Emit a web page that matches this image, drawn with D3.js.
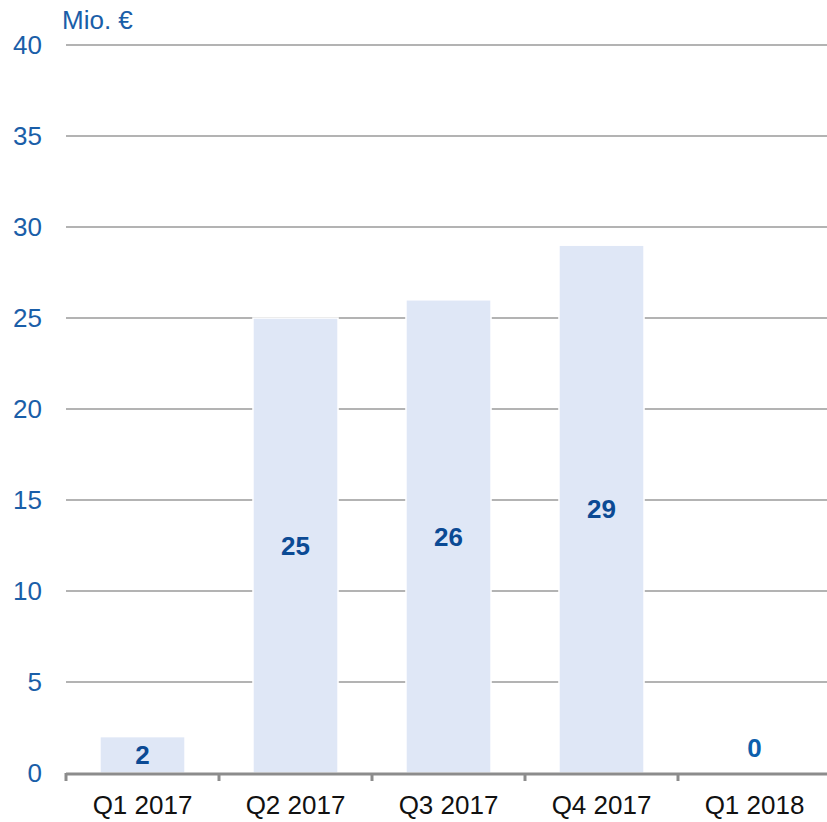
<!DOCTYPE html>
<html><head><meta charset="utf-8">
<script src="https://cdn.jsdelivr.net/npm/d3@7"></script>
<style>body{margin:0;background:#fff}svg{display:block}text{font-family:"Liberation Sans",Arial,sans-serif}</style>
</head><body>
<svg id="c" width="827" height="822"></svg>
<script>
const categories = ["Q1 2017","Q2 2017","Q3 2017","Q4 2017","Q1 2018"];
const values = [2, 25, 26, 29, 0];
const yTicks = [0,5,10,15,20,25,30,35,40];
const unitLabel = "Mio. €";

(function(){
const svg = d3.select("#c");
const mLeft = 66, mTop = 45, mBottom = 773;
const fs = 26;
const x = d3.scaleBand().domain(categories).range([mLeft, mLeft + 153*5]).paddingInner(0.444).paddingOuter(0.222);
const y = d3.scaleLinear().domain([0,40]).range([mBottom, mTop]);

// gridlines
svg.append("g").selectAll("line").data(yTicks.filter(d=>d>0)).join("line")
  .attr("x1", mLeft).attr("x2", 827).attr("y1", d=>y(d)).attr("y2", d=>y(d))
  .attr("stroke", "#b3b3b3").attr("stroke-width", 2);

// y tick labels
svg.append("g").selectAll("text").data(yTicks).join("text")
  .attr("x", 42).attr("y", d=>y(d)).attr("dy", "0.35em").attr("text-anchor", "end")
  .attr("fill", "#1a5ea8").attr("font-size", fs).text(d=>d);

svg.append("text").attr("x", 62).attr("y", 29).attr("fill", "#1a5ea8").attr("font-size", fs).text(unitLabel);

// bars
svg.append("g").selectAll("rect").data(values).join("rect")
  .attr("x", (d,i)=>x(categories[i])).attr("width", x.bandwidth())
  .attr("y", d=>y(d)).attr("height", d=>mBottom - y(d))
  .attr("fill", "#dfe7f6").attr("stroke", "#fff").attr("stroke-width", 1.5);

// value labels
svg.append("g").selectAll("text").data(values).join("text")
  .attr("x", (d,i)=>x(categories[i]) + x.bandwidth()/2)
  .attr("y", d=> d === 0 ? y(0) - 25 : (y(d) + mBottom)/2)
  .attr("dy", "0.35em").attr("text-anchor", "middle")
  .attr("font-weight", "bold").attr("font-size", fs)
  .attr("fill", d=> d === 0 ? "#0d5fad" : "#0b4a94").text(d=>d);

// x axis
const ax = svg.append("g");
ax.append("line").attr("x1", mLeft).attr("x2", 827).attr("y1", mBottom+1).attr("y2", mBottom+1)
  .attr("stroke", "#8c8c8c").attr("stroke-width", 3);
const tickX = d3.range(6).map(i => mLeft + 153*i);
ax.selectAll("line.t").data(tickX.filter(d=>d<827)).join("line").attr("class","t")
  .attr("x1", d=>d).attr("x2", d=>d).attr("y1", mBottom).attr("y2", mBottom+8)
  .attr("stroke", "#8c8c8c").attr("stroke-width", 3);
ax.selectAll("text").data(categories).join("text")
  .attr("x", d=>x(d) + x.bandwidth()/2).attr("y", 814).attr("text-anchor", "middle")
  .attr("fill", "#111").attr("font-size", fs).text(d=>d);
})();
</script>
</body></html>
